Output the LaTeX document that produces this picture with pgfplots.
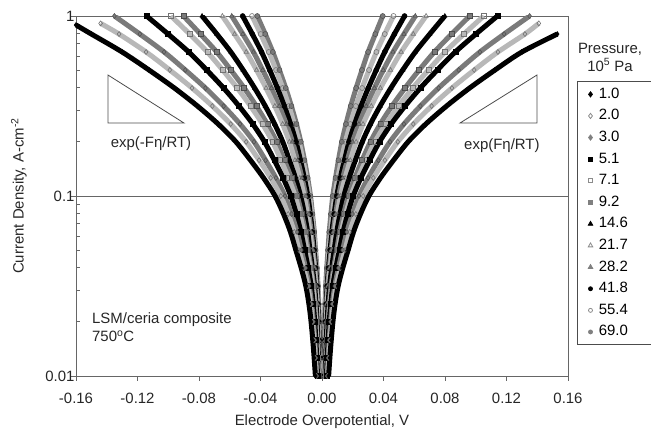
\documentclass[border=0pt]{standalone}
\usepackage{fontspec}
\setmainfont{Liberation Sans}
\usepackage{pgfplots}
\usepackage{pgfplotstable}
\pgfplotsset{compat=1.18}

% current density (A/cm2) against overpotential, cathodic (l) and anodic (r) branch
\pgfplotstableread{
y l r
0.891 -0.160 nan
0.794 -0.150 0.153
0.631 -0.130 0.130
0.501 -0.1125 0.1125
0.398 -0.096 0.096
0.316 -0.081 0.081
0.251 -0.0675 0.0675
0.2 -0.056 0.056
0.158 -0.0465 0.0465
0.126 -0.038 0.038
0.1 -0.0305 0.0305
0.0794 -0.025 0.025
0.0631 -0.0205 0.0205
0.0501 -0.017 0.017
0.0398 -0.0135 0.0135
0.0316 -0.0105 0.0105
0.0251 -0.0085 0.0085
0.02 -0.0071 0.0071
0.0158 -0.006 0.006
0.0126 -0.0051 0.0051
0.01 -0.0043 0.0043
}\tA
\pgfplotstableread{
y l r
0.91 -0.144 0.141
0.794 -0.132 0.132
0.631 -0.1144 0.1144
0.501 -0.099 0.099
0.398 -0.0845 0.0845
0.316 -0.0713 0.0713
0.251 -0.0594 0.0594
0.2 -0.0493 0.0493
0.158 -0.0409 0.0409
0.126 -0.0334 0.0334
0.1 -0.0268 0.0268
0.0794 -0.022 0.022
0.0631 -0.018 0.018
0.0501 -0.015 0.015
0.0398 -0.0119 0.0119
0.0316 -0.0092 0.0092
0.0251 -0.0075 0.0075
0.02 -0.0062 0.0062
0.0158 -0.0053 0.0053
0.0126 -0.0045 0.0045
0.01 -0.0038 0.0038
}\tB
\pgfplotstableread{
y l r
1 -0.135 0.135
0.794 -0.1185 0.1185
0.631 -0.1027 0.1027
0.501 -0.0889 0.0889
0.398 -0.0758 0.0758
0.316 -0.064 0.064
0.251 -0.0533 0.0533
0.2 -0.0442 0.0442
0.158 -0.0367 0.0367
0.126 -0.030 0.030
0.1 -0.0241 0.0241
0.0794 -0.0198 0.0198
0.0631 -0.0162 0.0162
0.0501 -0.0134 0.0134
0.0398 -0.0107 0.0107
0.0316 -0.0083 0.0083
0.0251 -0.0067 0.0067
0.02 -0.0056 0.0056
0.0158 -0.0047 0.0047
0.0126 -0.004 0.004
0.01 -0.0034 0.0034
}\tC
\pgfplotstableread{
y l r
1 -0.1141 0.1141
0.794 -0.1001 0.1001
0.631 -0.0867 0.0867
0.501 -0.075 0.075
0.398 -0.064 0.064
0.316 -0.054 0.054
0.251 -0.045 0.045
0.2 -0.0374 0.0374
0.158 -0.031 0.031
0.126 -0.0253 0.0253
0.1 -0.0203 0.0203
0.0794 -0.0167 0.0167
0.0631 -0.0137 0.0137
0.0501 -0.0113 0.0113
0.0398 -0.009 0.009
0.0316 -0.007 0.007
0.0251 -0.0057 0.0057
0.02 -0.0047 0.0047
0.0158 -0.004 0.004
0.0126 -0.0034 0.0034
0.01 -0.0029 0.0029
}\tD
\pgfplotstableread{
y l r
1 -0.0982 0.1052
0.794 -0.0861 0.0923
0.631 -0.0746 0.08
0.501 -0.0646 0.0692
0.398 -0.0551 0.059
0.316 -0.0465 0.0498
0.251 -0.0387 0.0415
0.2 -0.0321 0.0344
0.158 -0.0267 0.0286
0.126 -0.0218 0.0234
0.1 -0.0175 0.0188
0.0794 -0.0144 0.0154
0.0631 -0.0118 0.0126
0.0501 -0.0098 0.0105
0.0398 -0.0077 0.0083
0.0316 -0.006 0.0065
0.0251 -0.0049 0.0052
0.02 -0.0041 0.0044
0.0158 -0.0034 0.0037
0.0126 -0.0029 0.0031
0.01 -0.0025 0.0026
}\tE
\pgfplotstableread{
y l r
1 -0.0901 0.0961
0.794 -0.0791 0.0843
0.631 -0.0685 0.0731
0.501 -0.0593 0.0632
0.398 -0.0506 0.054
0.316 -0.0427 0.0455
0.251 -0.0356 0.0379
0.2 -0.0295 0.0315
0.158 -0.0245 0.0261
0.126 -0.02 0.0214
0.1 -0.0161 0.0171
0.0794 -0.0132 0.0141
0.0631 -0.0108 0.0115
0.0501 -0.009 0.0096
0.0398 -0.0071 0.0076
0.0316 -0.0055 0.0059
0.0251 -0.0045 0.0048
0.02 -0.0037 0.004
0.0158 -0.0032 0.0034
0.0126 -0.0027 0.0029
0.01 -0.0023 0.0024
}\tF
\pgfplotstableread{
y l r
1 -0.078 0.0799
0.794 -0.0684 0.0701
0.631 -0.0593 0.0607
0.501 -0.0513 0.0525
0.398 -0.0438 0.0448
0.316 -0.0369 0.0378
0.251 -0.0308 0.0315
0.2 -0.0255 0.0262
0.158 -0.0212 0.0217
0.126 -0.0173 0.0177
0.1 -0.0139 0.0142
0.0794 -0.0114 0.0117
0.0631 -0.0093 0.0096
0.0501 -0.0078 0.0079
0.0398 -0.0062 0.0063
0.0316 -0.0048 0.0049
0.0251 -0.0039 0.004
0.02 -0.0032 0.0033
0.0158 -0.0027 0.0028
0.0126 -0.0023 0.0024
0.01 -0.002 0.002
}\tH
\pgfplotstableread{
y l r
1 -0.0648 0.0677
0.794 -0.0569 0.0594
0.631 -0.0493 0.0515
0.501 -0.0426 0.0446
0.398 -0.0364 0.038
0.316 -0.0307 0.0321
0.251 -0.0256 0.0267
0.2 -0.0212 0.0222
0.158 -0.0176 0.0184
0.126 -0.0144 0.015
0.1 -0.0116 0.0121
0.0794 -0.0095 0.0099
0.0631 -0.0078 0.0081
0.0501 -0.0064 0.0067
0.0398 -0.0051 0.0053
0.0316 -0.004 0.0042
0.0251 -0.0032 0.0034
0.02 -0.0027 0.0028
0.0158 -0.0023 0.0024
0.0126 -0.0019 0.002
0.01 -0.0016 0.0017
}\tI
\pgfplotstableread{
y l r
1 -0.0587 0.0607
0.794 -0.0515 0.0533
0.631 -0.0446 0.0462
0.501 -0.0386 0.0399
0.398 -0.0329 0.0341
0.316 -0.0278 0.0288
0.251 -0.0232 0.024
0.2 -0.0192 0.0199
0.158 -0.0159 0.0165
0.126 -0.013 0.0135
0.1 -0.0105 0.0108
0.0794 -0.0086 0.0089
0.0631 -0.007 0.0073
0.0501 -0.0058 0.006
0.0398 -0.0046 0.0048
0.0316 -0.0036 0.0037
0.0251 -0.0029 0.003
0.02 -0.0024 0.0025
0.0158 -0.0021 0.0021
0.0126 -0.0017 0.0018
0.01 -0.0015 0.0015
}\tJ
\pgfplotstableread{
y l r
1 -0.0516 0.0537
0.794 -0.0453 0.0471
0.631 -0.0393 0.0408
0.501 -0.034 0.0353
0.398 -0.029 0.0301
0.316 -0.0245 0.0254
0.251 -0.0204 0.0212
0.2 -0.0169 0.0176
0.158 -0.014 0.0146
0.126 -0.0115 0.0119
0.1 -0.0092 0.0096
0.0794 -0.0076 0.0079
0.0631 -0.0062 0.0064
0.0501 -0.0051 0.0053
0.0398 -0.0041 0.0042
0.0316 -0.0032 0.0033
0.0251 -0.0026 0.0027
0.02 -0.0021 0.0022
0.0158 -0.0018 0.0019
0.0126 -0.0015 0.0016
0.01 -0.0013 0.0014
}\tK
\pgfplotstableread{
y l r
1 -0.0455 0.0465
0.794 -0.0399 0.0408
0.631 -0.0346 0.0354
0.501 -0.0299 0.0306
0.398 -0.0255 0.0261
0.316 -0.0215 0.022
0.251 -0.018 0.0184
0.2 -0.0149 0.0152
0.158 -0.0124 0.0126
0.126 -0.0101 0.0103
0.1 -0.0081 0.0083
0.0794 -0.0067 0.0068
0.0631 -0.0055 0.0056
0.0501 -0.0045 0.0046
0.0398 -0.0036 0.0037
0.0316 -0.0028 0.0029
0.0251 -0.0023 0.0023
0.02 -0.0019 0.0019
0.0158 -0.0016 0.0016
0.0126 -0.0014 0.0014
0.01 -0.0011 0.0012
}\tL
\pgfplotstableread{
y l r
1 -0.0421 0.0395
0.794 -0.0369 0.0347
0.631 -0.032 0.030
0.501 -0.0277 0.026
0.398 -0.0236 0.0222
0.316 -0.0199 0.0187
0.251 -0.0166 0.0156
0.2 -0.0138 0.0129
0.158 -0.0114 0.0107
0.126 -0.0093 0.0088
0.1 -0.0075 0.007
0.0794 -0.0062 0.0058
0.0631 -0.005 0.0047
0.0501 -0.0042 0.0039
0.0398 -0.0033 0.0031
0.0316 -0.0026 0.0024
0.0251 -0.0021 0.002
0.02 -0.0017 0.0016
0.0158 -0.0015 0.0014
0.0126 -0.0013 0.0012
0.01 -0.0011 0.001
}\tM

\newcommand\lblfont{\fontsize{15}{18}\selectfont}
\tikzset{
  blk/.style={line width=5bp, black, smooth, mark size=2.5bp,
    mark options={solid, fill=black, draw=black, line width=0.5bp}},
  opn/.style={line width=5bp, black!28, smooth, mark size=2.5bp,
    mark options={solid, fill=white, draw=black!55, line width=0.6bp}},
  gry/.style={line width=5bp, black!52, smooth, mark size=2.5bp,
    mark options={solid, fill=black!52, draw=black!70, line width=0.5bp}},
}

\begin{document}
\begin{tikzpicture}
\useasboundingbox (-76bp,-57bp) rectangle (575bp,376bp);
\begin{axis}[
  scale only axis,
  width=492bp, height=360bp,
  xmin=-0.16, xmax=0.16,
  ymin=0.01, ymax=1,
  ymode=log,
  xtick={-0.16,-0.12,-0.08,-0.04,0,0.04,0.08,0.12,0.16},
  ytick={0.01,0.1,1},
  yticklabels={0.01,0.1,1},
  xticklabel style={yshift=-9bp, /pgf/number format/.cd, fixed, fixed zerofill, precision=2, assume math mode=true},
  yticklabel style={xshift=7bp},
  tick label style={font=\lblfont, text=black!85},
  xlabel={Electrode Overpotential, V},
  ylabel={Current Density, A-cm\textsuperscript{-2}},
  every axis x label/.style={at={(axis description cs:0.5,-0.127)}, anchor=center, font=\lblfont, text=black!85},
  every axis y label/.style={at={(axis description cs:-0.116,0.5)}, rotate=90, anchor=center, font=\lblfont, text=black!85},
  tick pos=left,
  tick align=outside,
  major tick length=5bp,
  minor tick length=4bp,
  minor tick style={xshift=4bp},
  tick style={black!60, line width=0.8bp},
  axis line style={black!60, line width=0.8bp},
  ymajorgrids,
  major grid style={black!60, line width=0.8bp},
  legend cell align=left,
  legend style={at={(axis description cs:1.018,0.819)}, anchor=north west,
    draw=black!70, line width=0.8bp, font=\lblfont, inner xsep=11bp,
    nodes={text height=11bp, text depth=3bp, inner ysep=3.8bp}},
]
\addplot[gry, mark=*, forget plot] table[x=l, y=y] {\tM};
\addplot[gry, mark=*, forget plot] table[x=r, y=y] {\tM};
\addplot[opn, mark=o, forget plot] table[x=l, y=y] {\tL};
\addplot[opn, mark=o, forget plot] table[x=r, y=y] {\tL};
\addplot[blk, mark=*, forget plot] table[x=l, y=y] {\tK};
\addplot[blk, mark=*, forget plot] table[x=r, y=y] {\tK};
\addplot[gry, mark=triangle*, forget plot] table[x=l, y=y] {\tJ};
\addplot[gry, mark=triangle*, forget plot] table[x=r, y=y] {\tJ};
\addplot[opn, mark=triangle, forget plot] table[x=l, y=y] {\tI};
\addplot[opn, mark=triangle, forget plot] table[x=r, y=y] {\tI};
\addplot[blk, mark=triangle*, forget plot] table[x=l, y=y] {\tH};
\addplot[blk, mark=triangle*, forget plot] table[x=r, y=y] {\tH};
\addplot[gry, mark=square*, forget plot] table[x=l, y=y] {\tF};
\addplot[gry, mark=square*, forget plot] table[x=r, y=y] {\tF};
\addplot[opn, mark=square, forget plot] table[x=l, y=y] {\tE};
\addplot[opn, mark=square, forget plot] table[x=r, y=y] {\tE};
\addplot[blk, mark=square*, forget plot] table[x=l, y=y] {\tD};
\addplot[blk, mark=square*, forget plot] table[x=r, y=y] {\tD};
\addplot[gry, mark=diamond*, forget plot] table[x=l, y=y] {\tC};
\addplot[gry, mark=diamond*, forget plot] table[x=r, y=y] {\tC};
\addplot[opn, mark=diamond, forget plot] table[x=l, y=y] {\tB};
\addplot[opn, mark=diamond, forget plot] table[x=r, y=y] {\tB};
\addplot[blk, mark=diamond*, forget plot] table[x=l, y=y] {\tA};
\addplot[blk, mark=diamond*, forget plot] table[x=r, y=y] {\tA};

\addlegendimage{only marks, mark=diamond*, mark size=2.6bp, black}
\addlegendentry{\hspace*{4bp}\makebox[50bp][l]{1.0}}
\addlegendimage{only marks, mark=diamond, mark size=2.6bp, black!45}
\addlegendentry{\hspace*{4bp}2.0}
\addlegendimage{only marks, mark=diamond*, mark size=2.6bp, black!50}
\addlegendentry{\hspace*{4bp}3.0}
\addlegendimage{only marks, mark=square*, mark size=2bp, black}
\addlegendentry{\hspace*{4bp}5.1}
\addlegendimage{only marks, mark=square, mark size=2bp, black!45}
\addlegendentry{\hspace*{4bp}7.1}
\addlegendimage{only marks, mark=square*, mark size=2bp, black!50}
\addlegendentry{\hspace*{4bp}9.2}
\addlegendimage{only marks, mark=triangle*, mark size=2.6bp, black}
\addlegendentry{\hspace*{4bp}14.6}
\addlegendimage{only marks, mark=triangle, mark size=2.6bp, black!45}
\addlegendentry{\hspace*{4bp}21.7}
\addlegendimage{only marks, mark=triangle*, mark size=2.6bp, black!50}
\addlegendentry{\hspace*{4bp}28.2}
\addlegendimage{only marks, mark=*, mark size=2bp, black}
\addlegendentry{\hspace*{4bp}41.8}
\addlegendimage{only marks, mark=o, mark size=2bp, black!45}
\addlegendentry{\hspace*{4bp}55.4}
\addlegendimage{only marks, mark=*, mark size=2bp, black!50}
\addlegendentry{\hspace*{4bp}69.0}

\draw[black!70, line width=0.8bp] (axis cs:-0.1392,0.470) -- (axis cs:-0.1392,0.2545) -- (axis cs:-0.0898,0.2545) -- cycle;
\draw[black!70, line width=0.8bp] (axis cs:0.0898,0.2545) -- (axis cs:0.1398,0.2545) -- (axis cs:0.1398,0.470) -- cycle;
\node[font=\lblfont, text=black!85] at (axis cs:-0.1112,0.1945) {exp(-Fη/RT)};
\node[font=\lblfont, text=black!85] at (axis cs:0.117,0.1897) {exp(Fη/RT)};
\node[font=\fontsize{15}{17.5}\selectfont, text=black!85, anchor=north west, align=left, inner sep=0pt]
  at (axis cs:-0.1496,0.0224) {LSM/ceria composite\\750\textsuperscript{o}C};
\end{axis}
\node[font=\lblfont, text=black!85, align=center] at (534bp,319bp) {Pressure,\\10\textsuperscript{5} Pa};
\end{tikzpicture}
\end{document}
